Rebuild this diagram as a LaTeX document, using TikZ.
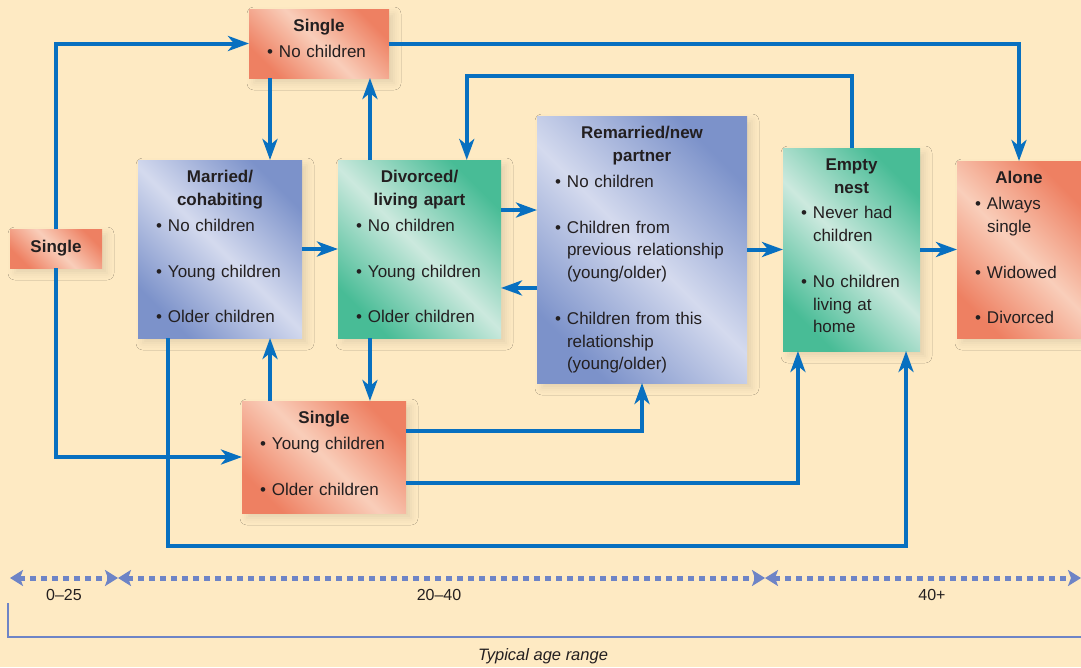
\documentclass[tikz,border=0pt]{standalone}
\usepackage{fontspec}
\setmainfont{Liberation Sans}
\usetikzlibrary{arrows.meta,calc,shadows.blur}

\definecolor{bg}{RGB}{254,234,195}
\definecolor{arrowblue}{RGB}{8,112,192}
\definecolor{salD}{RGB}{238,128,98}
\definecolor{salL}{RGB}{249,206,186}
\definecolor{blueD}{RGB}{124,146,202}
\definecolor{blueL}{RGB}{212,218,238}
\definecolor{greenD}{RGB}{72,188,150}
\definecolor{greenL}{RGB}{204,233,222}
\definecolor{axisblue}{RGB}{110,132,198}
\definecolor{ink}{RGB}{35,31,32}

% bullet, hanging indent, centred box title, blank-line gap between items
\newcommand{\bul}{\makebox[12pt][l]{\textbullet}}
\newcommand{\ind}{\hspace*{12pt}}
\newcommand{\ttl}[1]{{\centering\bfseries #1\par}\vspace{3pt}}
\newcommand{\gap}{22.8pt}

\begin{document}
\begin{tikzpicture}[x=1pt,y=-1pt,
  box/.style={rectangle, inner sep=0pt, outer sep=0pt,
    blur shadow={shadow xshift=5pt, shadow yshift=-5pt, shadow opacity=10, shadow blur radius=7pt}},
  % diagonal sheen running from upper left to lower right
  redbox/.style={box, top color=salD, bottom color=salD, middle color=salL, shading angle=-45},
  bluebox/.style={box, top color=blueD, bottom color=blueD, middle color=blueL, shading angle=-45},
  greenbox/.style={box, top color=greenD, bottom color=greenD, middle color=greenL, shading angle=-45},
  txt/.style={inner sep=0pt, outer sep=0pt, align=left, text=ink, anchor=north,
    font=\fontsize{17}{22.8}\selectfont},
  arr/.style={draw=arrowblue, line width=4pt, line join=miter,
    -{Stealth[length=21pt, width=15pt, inset=6pt]}},
  agearr/.style={draw=axisblue, line width=5pt, dash pattern=on 6pt off 5pt,
    {Stealth[length=13pt, width=16pt, inset=3pt]}-{Stealth[length=13pt, width=16pt, inset=3pt]}},
  agelbl/.style={text=ink, font=\fontsize{16}{19}\selectfont, inner sep=0pt},
]
\useasboundingbox (0,0) rectangle (1081,667);
\fill[bg] (0,0) rectangle (1081,667);

% ---- state boxes ----
\node[redbox, minimum width=140pt, minimum height=69pt] (S1) at (319,43.5) {};
\node[txt, text width=104pt] (S1t) at ([yshift=-10.5pt]S1.north)
  {\ttl{Single}\bul No children};

\node[redbox, minimum width=92pt, minimum height=39pt, text=ink,
  font=\bfseries\fontsize{17}{20}\selectfont] (L) at (56,248.5) {Single};

\node[bluebox, minimum width=164pt, minimum height=178pt] (M) at (220,249) {};
\node[txt, text width=128pt] (Mt) at ([yshift=-10.5pt]M.north)
  {\ttl{Married/\\cohabiting}\bul No children\\[\gap]\bul Young children\\[\gap]\bul Older children};

\node[greenbox, minimum width=163pt, minimum height=178pt] (D) at (419.5,249) {};
\node[txt, text width=127pt] (Dt) at ([yshift=-10.5pt]D.north)
  {\ttl{Divorced/\\living apart}\bul No children\\[\gap]\bul Young children\\[\gap]\bul Older children};

\node[bluebox, minimum width=210pt, minimum height=267pt] (R) at (642,249.5) {};
\node[txt, text width=174pt] (Rt) at ([yshift=-10.5pt]R.north)
  {\ttl{Remarried/new\\partner}\bul No children\\[\gap]\bul Children from\\\ind previous relationship\\\ind (young/older)\\[\gap]\bul Children from this\\\ind relationship\\\ind (young/older)};

\node[greenbox, minimum width=137pt, minimum height=203pt] (E) at (851.5,249.5) {};
\node[txt, text width=101pt] (Et) at ([yshift=-10.5pt]E.north)
  {\ttl{Empty\\nest}\bul Never had\\\ind children\\[\gap]\bul No children\\\ind living at\\\ind home};

\node[redbox, minimum width=124pt, minimum height=177pt] (A) at (1019,249.5) {};
\node[txt, text width=88pt] (At) at ([yshift=-10.5pt]A.north)
  {\ttl{Alone}\bul Always\\\ind single\\[\gap]\bul Widowed\\[\gap]\bul Divorced};

\node[redbox, minimum width=164pt, minimum height=112pt] (B) at (324,457) {};
\node[txt, text width=128pt] (Bt) at ([yshift=-10.5pt]B.north)
  {\ttl{Single}\bul Young children\\[\gap]\bul Older children};

% ---- connector ports on box edges ----
\coordinate (s1m) at ($(S1.south west)!0.15!(S1.south east)$);
\coordinate (dn)  at ($(D.north west)!0.196!(D.north east)$);
\coordinate (bm)  at ($(B.north west)!0.171!(B.north east)$);
\coordinate (ds)  at ($(D.south west)!0.196!(D.south east)$);
\coordinate (dR)  at ($(D.north east)!0.281!(D.south east)$);
\coordinate (rD)  at ($(R.north west)!0.644!(R.south west)$);
\coordinate (dE)  at ($(D.north west)!0.79!(D.north east)$);
\coordinate (mS)  at ($(M.south west)!0.183!(M.south east)$);
\coordinate (eS2) at ($(E.south west)!0.898!(E.south east)$);
\coordinate (eS1) at ($(E.south west)!0.109!(E.south east)$);
\coordinate (bR)  at ($(B.north east)!0.268!(B.south east)$);
\coordinate (bE)  at ($(B.north east)!0.732!(B.south east)$);

% ---- transitions ----
\draw[arr] (L.north) |- (S1.west);
\draw[arr] (L.south) |- (B.west);
\draw[arr] (S1.east) -| (A.north);
\draw[arr] (s1m) -- (s1m |- M.north);
\draw[arr] (dn) -- (dn |- S1.south);
\draw[arr] (bm) -- (bm |- M.south);
\draw[arr] (ds) -- (ds |- B.north);
\draw[arr] (M.east) -- (D.west);
\draw[arr] (dR) -- (dR -| R.west);
\draw[arr] (rD) -- (rD -| D.east);
\draw[arr] (R.east) -- (E.west);
\draw[arr] (E.east) -- (A.west);
\draw[arr] (E.north) -- ++(0,-72) -| (dE);
\draw[arr] (bR) -| (R.south);
\draw[arr] (bE) -| (eS1);
\draw[arr] (mS) -- ++(0,208) -| (eS2);

% ---- typical age range axis ----
\coordinate (a0) at (10,578);
\coordinate (a1) at (118,578);
\coordinate (a2) at (765,578);
\coordinate (a3) at (1081,578);
\draw[agearr] (a0) -- (a1);
\draw[agearr] (a1) -- (a2);
\draw[agearr] (a2) -- (a3);
\node[agelbl] (g1) at (64,595) {0–25};
\node[agelbl] (g2) at (439,595) {20–40};
\node[agelbl] (g3) at (932,595) {40+};

\coordinate (k0) at (8,603);
\coordinate (k1) at (1081,637);
\draw[axisblue, line width=1.5pt] (k0) |- (k1);
\node[text=ink, inner sep=0pt, font=\itshape\fontsize{16.5}{20}\selectfont] (cap) at (543,656) {Typical age range};
\end{tikzpicture}
\end{document}
